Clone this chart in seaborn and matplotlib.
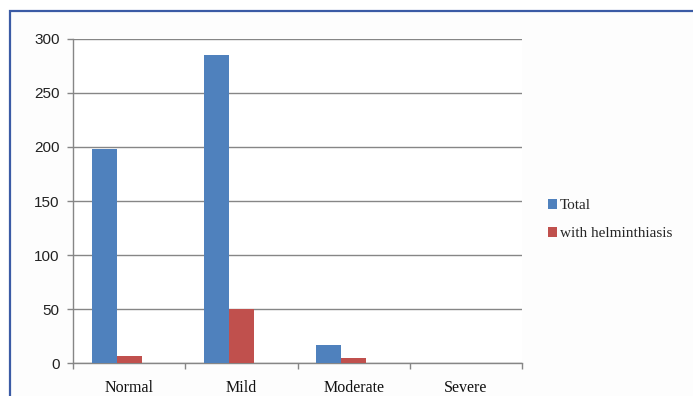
import matplotlib
matplotlib.use("Agg")
import matplotlib.pyplot as plt
from matplotlib.patches import Rectangle
import numpy as np
import pandas as pd
import seaborn as sns

categories = ["Normal", "Mild", "Moderate", "Severe"]
total = [198, 285, 17, 0]
with_helminthiasis = [7, 50, 5, 0]
series_names = ["Total", "with helminthiasis", "Series3"]
y_ticks = [0, 50, 100, 150, 200, 250, 300]

# long-format table; the third series is empty but keeps its slot in each group
df = pd.DataFrame({
    "category": categories * 3,
    "series": [series_names[0]] * 4 + [series_names[1]] * 4 + [series_names[2]] * 4,
    "value": total + with_helminthiasis + [np.nan] * 4,
})

sns.set_theme(style="white")
plt.rcParams["font.family"] = ["Liberation Sans", "DejaVu Sans"]

fig = plt.figure(figsize=(6.93, 3.96), dpi=100)
fig.patch.set_facecolor("white")

# chart border (left and top edges inside the canvas)
fig.patches.append(Rectangle((10 / 693, -1.0), 3.0, 2.0 - 11 / 396,
                             transform=fig.transFigure, facecolor="#fdfdfd",
                             edgecolor="#3b5ba5", linewidth=1.6, zorder=-10,
                             clip_on=False))

ax = fig.add_axes([73 / 693, 1 - 363.3 / 396, (522 - 73) / 693, (363.3 - 38.7) / 396])
ax.set_zorder(1)
ax.set_facecolor("white")

palette = {series_names[0]: "#4f81bd", series_names[1]: "#c0504d", series_names[2]: "#9bbb59"}
sns.barplot(data=df, x="category", y="value", hue="series", hue_order=series_names,
            order=categories, palette=palette, width=0.67, dodge=True,
            errorbar=None, linewidth=0, saturation=1, legend=False, ax=ax, zorder=3)

ax.set_xlim(-0.5, 3.5)
ax.set_ylim(0, 300)
ax.set_yticks(y_ticks)
ax.set_yticklabels([str(v) for v in y_ticks], fontsize=11, color="#222222",
                   family=["Liberation Sans"])
ax.set_xticks(range(len(categories)))
ax.set_xticklabels(categories, fontsize=11.5, color="#111111", family=["Liberation Serif"])
ax.set_xlabel("")
ax.set_ylabel("")

ax.yaxis.grid(True, color="#868686", linewidth=1.0, zorder=0)
ax.set_axisbelow(True)
for side in ["top", "right"]:
    ax.spines[side].set_visible(False)
for side in ["left", "bottom"]:
    ax.spines[side].set_color("#868686")
    ax.spines[side].set_linewidth(1.0)

ax.tick_params(axis="y", which="major", direction="out", length=4, width=1,
               color="#868686", pad=5.5, left=True)
ax.tick_params(axis="x", which="major", length=0, pad=12)
ax.set_xticks(np.arange(-0.5, 3.6, 1.0), minor=True)
ax.tick_params(axis="x", which="minor", direction="out", length=4, width=1,
               color="#868686", bottom=True)

# legend with the two named series
handles = [Rectangle((0, 0), 1, 1, facecolor=palette[s], edgecolor="none")
           for s in series_names[:2]]
leg = fig.legend(handles, series_names[:2], loc="upper left",
                 bbox_to_anchor=(542 / 693, 1 - 193 / 396), frameon=False,
                 prop={"family": "Liberation Serif", "size": 11},
                 handlelength=0.6, handleheight=0.6, handletextpad=0.15,
                 labelspacing=0.95, borderaxespad=0)

fig.savefig("out.png", dpi=100, facecolor=fig.get_facecolor())
